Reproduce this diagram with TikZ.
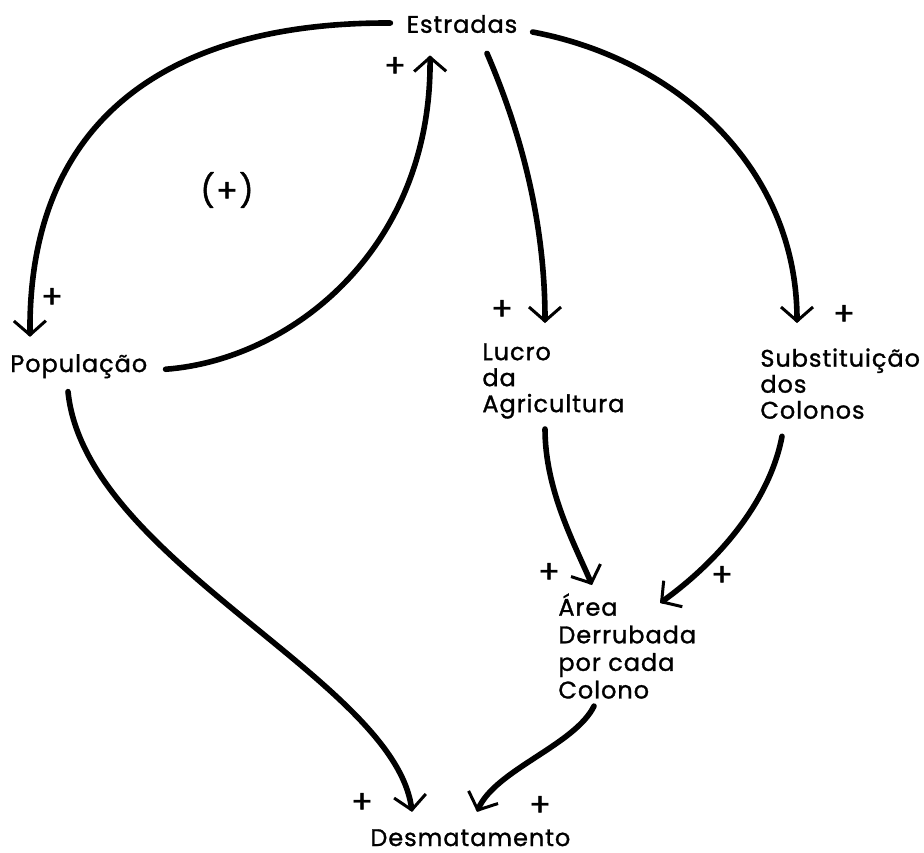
\documentclass[tikz,border=0pt]{standalone}
\usepackage{fontspec}
\setmainfont[LetterSpace=4,FakeBold=1.2]{Poppins}
\usetikzlibrary{arrows.meta}
\begin{document}
\begin{tikzpicture}
      [x=.5pt,y=-.5pt
      ,lin/.style={line width=2.8pt,line cap=round,-{Straight Barb[length=7pt,width=16pt,line width=1.5pt]}}
      ,txt/.style={inner sep=0pt,font=\fontsize{12}{13}\selectfont,align=left}
      ,sgn/.style={inner sep=0pt,font=\fontsize{16}{18}\selectfont}
      ]
        \useasboundingbox (0,0) rectangle (924,852);
        % variaveis
        \node[txt] (est) at (462,24) {Estradas};
        \node[txt,anchor=base west] (pop) at (10,372) {População};
        \node[txt,anchor=north west] (lucro) at (482,343) {Lucro\\da\\Agricultura};
        \node[txt,anchor=north west] (subst) at (760,348) {Substituição\\dos\\Colonos};
        \node[txt,anchor=north west,font=\fontsize{12}{13.8}\selectfont] (area) at (558,593) {Área\\Derrubada\\por cada\\Colono};
        \node[txt,anchor=base west] (desm) at (370,846) {Desmatamento};
        % ligacoes
        \draw[lin] ([shift={(-16,-1)}]est.west) .. controls (180,22) and (28,110) .. ([shift={(20,-17)}]pop.north west);
        \draw[lin] ([shift={(18,3)}]pop.east) .. controls (290,360) and (432,250) .. ([shift={(-32,22)}]est.south);
        \draw[lin] ([shift={(25,20)}]est.south) .. controls (520,130) and (545,220) .. ([shift={(63,-20)}]lucro.north west);
        \draw[lin] ([shift={(15,8)}]est.east) .. controls (680,60) and (797,170) .. ([shift={(37,-25)}]subst.north west);
        \draw[lin] ([shift={(63,10)}]lucro.south west) .. controls (545,490) and (575,545) .. ([shift={(34,-8)}]area.north west);
        \draw[lin] ([shift={(22,17)}]subst.south west) .. controls (770,500) and (720,560) .. ([shift={(102,10)}]area.north west);
        \draw[lin] ([shift={(58,13)}]pop.south west) .. controls (85,560) and (395,680) .. ([shift={(42,-17)}]desm.north west);
        \draw[lin] ([shift={(36,7)}]area.south west) .. controls (575,745) and (495,770) .. ([shift={(107,-17)}]desm.north west);
        % sinais
        \node[sgn] (s1) at (395,67) {+};
        \node[sgn] (s2) at (52,298) {+};
        \node[sgn] (s3) at (502,310) {+};
        \node[sgn] (s4) at (844,315) {+};
        \node[sgn] (s5) at (549,573) {+};
        \node[sgn] (s6) at (722,576) {+};
        \node[sgn] (s7) at (362,803) {+};
        \node[sgn] (s8) at (540,806) {+};
        \node[sgn] (laco) at (227,190) {(+)};
      \end{tikzpicture}
\end{document}
